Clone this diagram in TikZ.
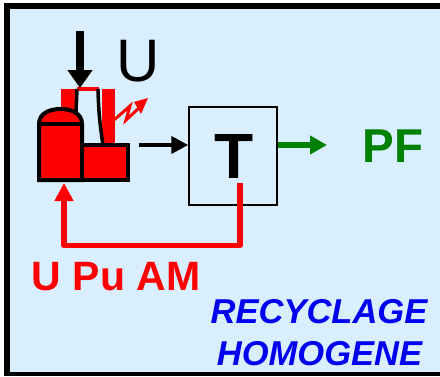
\documentclass[tikz,border=0pt]{standalone}
\usepackage{fontspec}
\setmainfont{Liberation Sans}
\usetikzlibrary{arrows.meta}
\definecolor{panel}{RGB}{217,239,255}
\definecolor{pfgreen}{RGB}{0,128,0}
\definecolor{recblue}{RGB}{0,0,240}
\tikzset{
  x=1pt,y=1pt,
  label text/.style={inner sep=0pt,anchor=center},
  plant/.style={draw=black,line width=4pt,fill=red,line join=miter},
}
\begin{document}
\begin{tikzpicture}
\useasboundingbox (0,0) rectangle (440,376);
% frame: panel with black top, left and bottom edges
\fill[black] (4,0) rectangle (440,373);
\fill[panel] (10,4) rectangle (440,367);
% red stack
\fill[red] (61,287) rectangle (78,255);
\fill[red] (102,287) rectangle (115,225);
\fill[red] (77,289) rectangle (99,285);
% cooling tower walls
\draw[line width=3.5pt] (77,287) -- (76,264);
\draw[line width=3.5pt] (98,287) .. controls (98.5,265) and (100,250) .. (103,231);
% plant
\node[plant,minimum width=46pt,minimum height=35pt,inner sep=0pt] (turbine) at (105,213.5) {};
\draw[plant] (39,196) -- (39,252) .. controls (39,263) and (50,267) .. (60.5,267) .. controls (71,267) and (82,263) .. (82,252) -- (82,196) -- cycle;
\draw[line width=4pt] (39,252) -- (82,252);
\coordinate (plantTop) at (80,288);
\coordinate (feed) at (80,345);
\draw[line width=8pt,-{Triangle[length=18pt,width=24pt]}] (feed) -- (plantTop);
% radiation
\draw[red,line width=3pt,line join=miter] (114,256) -- (130,270) -- (126,256) -- (139,268);
\fill[red] (134,274) -- (148,278) -- (141,262) -- cycle;
% T box
\node[draw=black,line width=1.5pt,minimum width=88pt,minimum height=98pt,inner sep=0pt] (tbox) at (233,220) {};
\node[label text,font=\bfseries\fontsize{64}{64}\selectfont] (tlabel) at (234,220) {T};
\coordinate (plantOut) at (139,231);
\draw[line width=4pt,-{Triangle[length=17pt,width=17pt]}] (plantOut) -- (tbox.west |- plantOut);
\coordinate (greenEnd) at (327,231);
\draw[pfgreen,line width=6pt,-{Triangle[length=17pt,width=18pt]}] (tbox.east |- greenEnd) -- (greenEnd);
% recycle
\coordinate (recStart) at (240,193);
\coordinate (recCorner) at (240,130.5);
\coordinate (recLeft) at (64,130.5);
\coordinate (recEnd) at (64,193);
\draw[red,line width=5.5pt,line join=round,-{Triangle[length=18pt,width=18pt]}] (recStart) -- (recCorner) -- (recLeft) -- (recEnd);
% labels
\node[label text,font=\fontsize{60}{60}\selectfont] (ulabel) at (138.5,315) {U};
\node[label text,text=pfgreen,font=\bfseries\fontsize{47.5}{47.5}\selectfont] (pf) at (393,230) {PF};
\node[label text,text=red,font=\bfseries\fontsize{41}{41}\selectfont] (upuam) at (116,99) {U Pu AM};
\node[label text,text=recblue,font=\bfseries\itshape\fontsize{34.5}{34.5}\selectfont] (rec) at (319,64) {RECYCLAGE};
\node[label text,text=recblue,font=\bfseries\itshape\fontsize{34.5}{34.5}\selectfont] (hom) at (319.5,22) {HOMOGENE};
\end{tikzpicture}
\end{document}
